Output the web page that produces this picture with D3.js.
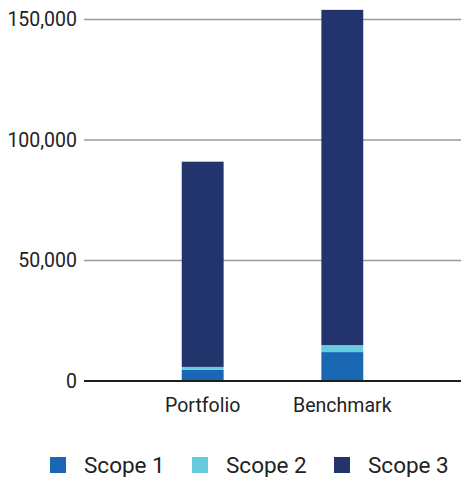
<!DOCTYPE html>
<html>
<head>
<meta charset="utf-8">
<script src="https://cdn.jsdelivr.net/npm/d3@7"></script>
<style>
  body { margin: 0; background: #fff; }
  text { font-family: Roboto, "Noto Sans", sans-serif; fill: #222; }
</style>
</head>
<body>
<div id="chart"></div>
<script>
// data
var categories = ["Portfolio", "Benchmark"];
var seriesNames = ["Scope 1", "Scope 2", "Scope 3"];
var scope1 = [4600, 12000];
var scope2 = [1250, 2900];
var scope3 = [85150, 139100];
var yTicks = [0, 50000, 100000, 150000];

var colors = ["#1A68B3", "#66CBDD", "#22346B"];

var W = 461, H = 477;
var svg = d3.select("#chart").append("svg")
  .attr("width", W)
  .attr("height", H);

// build rows for the stack
var rows = categories.map(function (c, i) {
  return { cat: c, "Scope 1": scope1[i], "Scope 2": scope2[i], "Scope 3": scope3[i] };
});
var stacked = d3.stack().keys(seriesNames)(rows);

var x = d3.scaleBand().domain(categories).range([84, 461])
  .paddingInner(0.7).paddingOuter(0.7);
var y = d3.scaleLinear().domain([0, 150000]).range([381, 19.5]);

// gridlines
svg.append("g")
  .selectAll("line")
  .data(yTicks.filter(function (d) { return d > 0; }))
  .enter().append("line")
  .attr("x1", 84).attr("x2", W)
  .attr("y1", function (d) { return y(d); })
  .attr("y2", function (d) { return y(d); })
  .attr("stroke", "#9a9a9a")
  .attr("stroke-width", 1.6);

// y labels
var yAxis = svg.append("g")
  .attr("transform", "translate(77,0)")
  .call(d3.axisLeft(y).tickValues(yTicks).tickSize(0).tickPadding(0)
    .tickFormat(d3.format(",")));
yAxis.select(".domain").remove();
yAxis.selectAll("text")
  .style("font-size", "19.5px")
  .style("font-family", "Roboto, sans-serif")
  .attr("fill", "#222");

// bars
svg.append("g")
  .selectAll("g")
  .data(stacked)
  .enter().append("g")
  .attr("fill", function (d, i) { return colors[i]; })
  .selectAll("rect")
  .data(function (d) { return d; })
  .enter().append("rect")
  .attr("x", function (d) { return x(d.data.cat); })
  .attr("width", x.bandwidth())
  .attr("y", function (d) { return y(d[1]); })
  .attr("height", function (d) { return y(d[0]) - y(d[1]); });

// baseline
svg.append("line")
  .attr("x1", 84).attr("x2", W)
  .attr("y1", y(0)).attr("y2", y(0))
  .attr("stroke", "#1e1e1e")
  .attr("stroke-width", 2);

// x labels
var xAxis = svg.append("g")
  .attr("transform", "translate(0," + y(0) + ")")
  .call(d3.axisBottom(x).tickSize(0).tickPadding(17));
xAxis.select(".domain").remove();
xAxis.selectAll("text")
  .style("font-size", "19.5px")
  .style("font-family", "Roboto, sans-serif")
  .attr("fill", "#222");

// legend
var legend = svg.append("g")
  .selectAll("g")
  .data(seriesNames)
  .enter().append("g")
  .attr("transform", function (d, i) { return "translate(" + (50 + i * 142) + ",457)"; });
legend.append("rect")
  .attr("width", 16).attr("height", 16)
  .attr("fill", function (d, i) { return colors[i]; });
legend.append("text")
  .attr("x", 34).attr("y", 16)
  .style("font-size", "22.5px")
  .text(function (d) { return d; });
</script>
</body>
</html>
